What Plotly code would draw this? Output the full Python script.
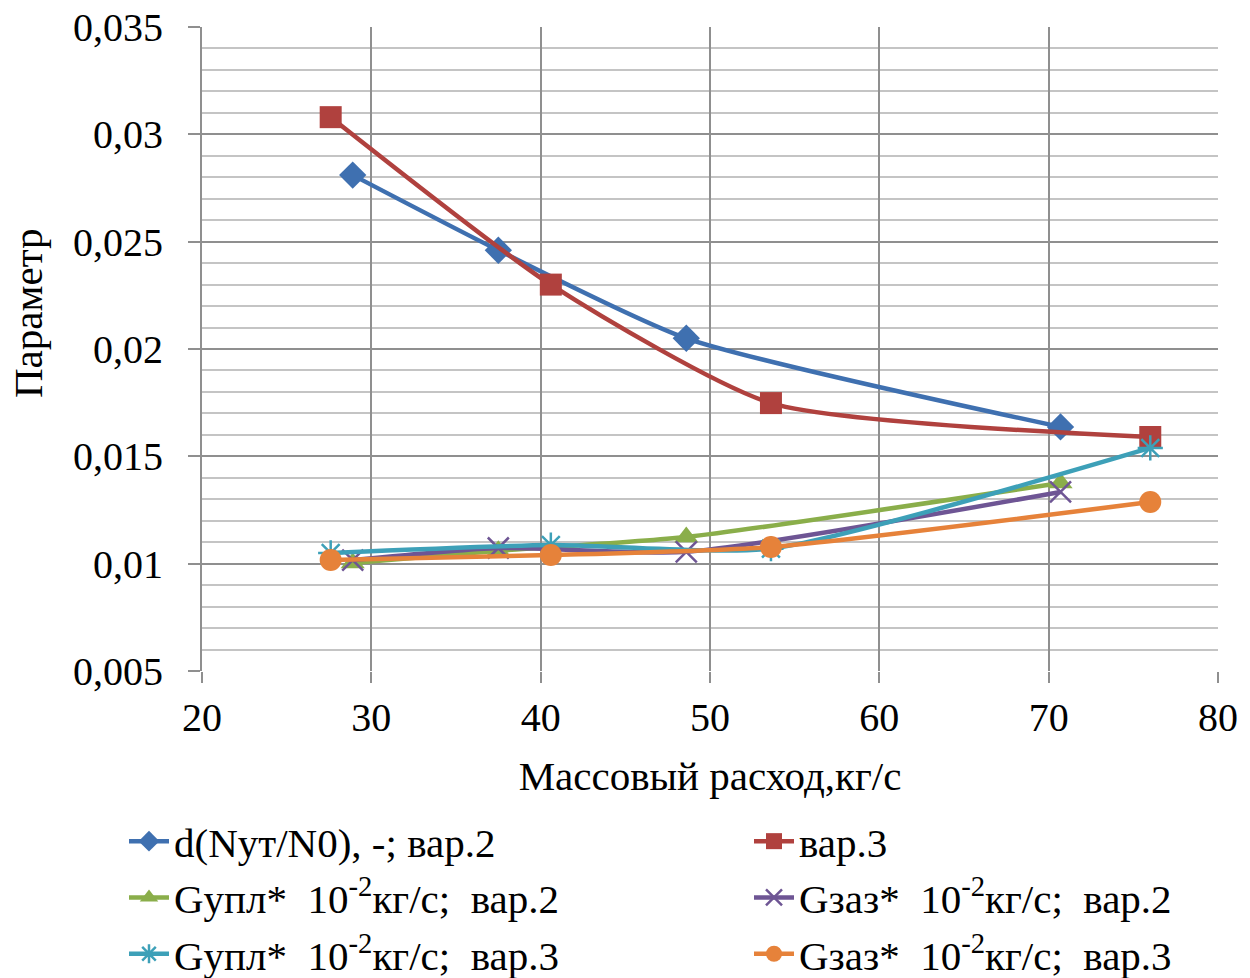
import plotly.graph_objects as go

x_var2 = [28.9, 37.5, 48.6, 70.7]
x_var3 = [27.6, 40.6, 53.6, 76.0]

d_var2 = [0.0281, 0.0246, 0.0205, 0.01637]
d_var3 = [0.0308, 0.0230, 0.01748, 0.0159]
gupl_var2 = [0.01003, 0.0106, 0.01124, 0.01376]
gzaz_var2 = [0.01017, 0.01073, 0.01055, 0.01334]
gupl_var3 = [0.0105, 0.01087, 0.0107, 0.01539]
gzaz_var3 = [0.01017, 0.0104, 0.01078, 0.01287]

names = [
    "d(Nут/N0), -; вар.2",
    "вар.3",
    "Gупл*  10<sup>-2</sup>кг/с;  вар.2",
    "Gзаз*  10<sup>-2</sup>кг/с;  вар.2",
    "Gупл*  10<sup>-2</sup>кг/с;  вар.3",
    "Gзаз*  10<sup>-2</sup>кг/с;  вар.3",
]

fig = go.Figure()

series = [
    (x_var2, d_var2, "#3F70B0", "diamond", 21, {}, "legend"),
    (x_var3, d_var3, "#B0413E", "square", 22, {}, "legend2"),
    (x_var2, gupl_var2, "#8AAE4A", "triangle-up", 21, {}, "legend"),
    (x_var2, gzaz_var2, "#6E5594", "x-thin-open", 21, {"line": {"width": 2.5, "color": "#6E5594"}}, "legend2"),
    (x_var3, gupl_var3, "#3DA0B8", "asterisk-open", 21, {"line": {"width": 2.5, "color": "#3DA0B8"}}, "legend"),
    (x_var3, gzaz_var3, "#E6823A", "circle", 22, {}, "legend2"),
]

for (xs, ys, col, sym, sz, extra, lg), nm in zip(series, names):
    marker = dict(symbol=sym, size=sz, color=col)
    marker.update(extra)
    fig.add_trace(go.Scatter(
        x=xs, y=ys, name=nm, mode="lines+markers", legend=lg,
        line=dict(color=col, width=4.5, shape="spline", smoothing=0.6),
        marker=marker,
    ))

font_family = "Liberation Serif"
tick_size = 40
text_size = 41

legend_common = dict(
    orientation="v", xref="container", yref="container",
    xanchor="left", y=1 - 808 / 978, yanchor="top",
    font=dict(family=font_family, size=text_size, color="black"),
    tracegroupgap=0, itemwidth=40, bgcolor="rgba(0,0,0,0)",
)

fig.update_layout(
    width=1250, height=978,
    paper_bgcolor="white", plot_bgcolor="white",
    separators=", ",
    margin=dict(l=202, r=32, t=27, b=307, autoexpand=False),
    font=dict(family=font_family, size=text_size, color="black"),
    showlegend=True,
    legend=dict(x=124 / 1250, **legend_common),
    legend2=dict(x=749 / 1250, **legend_common),
    annotations=[dict(
        text="Параметр", xref="paper", yref="paper",
        x=-(202 - 28) / 1016, y=(671 - 313) / 644,
        xanchor="center", yanchor="middle", textangle=-90, showarrow=False,
        font=dict(family=font_family, size=text_size, color="black"),
    )],
)

fig.update_xaxes(
    range=[20, 80], dtick=10, tick0=20,
    showgrid=True, gridcolor="#8f8f8f", gridwidth=2,
    showline=False, zeroline=False,
    ticks="outside", ticklen=11, tickcolor="#8f8f8f", tickwidth=2,
    ticklabelstandoff=0,
    tickfont=dict(family=font_family, size=tick_size),
    title=dict(text="Массовый расход,кг/с", font=dict(family=font_family, size=text_size), standoff=22),
)
fig.update_yaxes(
    range=[0.005, 0.035], dtick=0.005, tick0=0.005,
    showgrid=True, gridcolor="#8f8f8f", gridwidth=2,
    minor=dict(dtick=0.001, showgrid=True, gridcolor="#c4c4c4", gridwidth=2),
    showline=True, linecolor="#8f8f8f", linewidth=2,
    zeroline=False,
    ticks="outside", ticklen=12, tickcolor="#8f8f8f", tickwidth=2,
    ticklabelstandoff=17,
    tickfont=dict(family=font_family, size=tick_size),
)

fig.write_html("out.html")
